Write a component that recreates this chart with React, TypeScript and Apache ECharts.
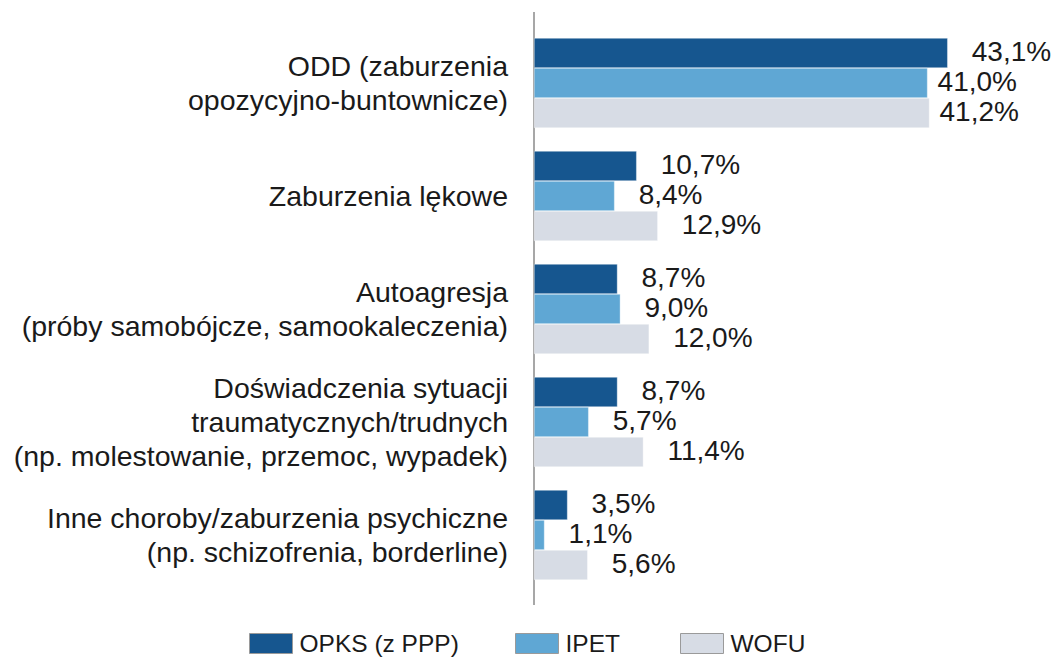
import React, { useEffect, useRef } from "react";
import * as echarts from "echarts";

const categories = [
  "ODD (zaburzenia\nopozycyjno-buntownicze)",
  "Zaburzenia lękowe",
  "Autoagresja\n(próby samobójcze, samookaleczenia)",
  "Doświadczenia sytuacji\ntraumatycznych/trudnych\n(np. molestowanie, przemoc, wypadek)",
  "Inne choroby/zaburzenia psychiczne\n(np. schizofrenia, borderline)",
];
const seriesNames = ["OPKS (z PPP)", "IPET", "WOFU"];
const opksValues = [43.1, 10.7, 8.7, 8.7, 3.5];
const ipetValues = [41.0, 8.4, 9.0, 5.7, 1.1];
const wofuValues = [41.2, 12.9, 12.0, 11.4, 5.6];
const colors = ["#16568f", "#5fa7d4", "#d7dce5"];

const FONT = "'Liberation Sans', Arial, sans-serif";

export default function App() {
  const ref = useRef<HTMLDivElement>(null);
  useEffect(() => {
    if (!ref.current) return;
    const chart = echarts.init(ref.current, undefined, { renderer: "svg" });
    const fmt = (p: any) => Number(p.value).toFixed(1).replace(".", ",") + "%";
    const allValues = [opksValues, ipetValues, wofuValues];
    const mkData = (vals: number[], si: number) =>
      vals.map((v, i) =>
        i === 0 && si > 0 ? { value: v, label: { distance: 10 } } : v
      );
    const series = allValues.map((vals, si) => ({
      name: seriesNames[si],
      type: "bar",
      data: mkData(vals, si),
      barWidth: 30,
      barGap: "0%",
      itemStyle: { color: colors[si], borderColor: "rgba(255,255,255,0.6)", borderWidth: 0.6 },
      label: {
        show: true,
        position: "right",
        distance: 24,
        offset: [0, -2],
        formatter: fmt,
        color: "#1a1a1a",
        fontFamily: FONT,
        fontSize: 28,
      },
    }));
    const legendLefts = [249, 515, 680];
    chart.setOption({
      animation: false,
      grid: { left: 534, top: 26.5, height: 565, width: 480, containLabel: false },
      xAxis: {
        type: "value",
        min: 0,
        max: 50,
        show: false,
      },
      yAxis: {
        type: "category",
        data: categories,
        inverse: true,
        axisLine: { show: false },
        axisTick: { show: false },
        axisLabel: {
          margin: 26,
          color: "#1a1a1a",
          fontFamily: FONT,
          fontSize: 28.5,
          lineHeight: 34,
          align: "right",
        },
      },
      legend: seriesNames.map((n, i) => ({
        data: [n],
        left: legendLefts[i],
        top: 631,
        itemWidth: 43,
        itemHeight: 20,
        itemGap: 0,
        icon: "rect",
        padding: 0,
        selectedMode: false,
        itemStyle: { borderColor: "#9a9a9a", borderWidth: 1 },
        textStyle: { color: "#1a1a1a", fontFamily: FONT, fontSize: 24.5, lineHeight: 22, padding: [0, 0, 0, 2] },
      })),
      graphic: [
        {
          type: "line",
          shape: { x1: 534, y1: 12, x2: 534, y2: 605 },
          style: { stroke: "#8a8a8a", lineWidth: 1.5 },
        },
      ],
      series,
    });
    return () => chart.dispose();
  }, []);
  return <div ref={ref} style={{ width: 1055, height: 657, position: "absolute", left: 0, top: 0, background: "#fff" }} />;
}
